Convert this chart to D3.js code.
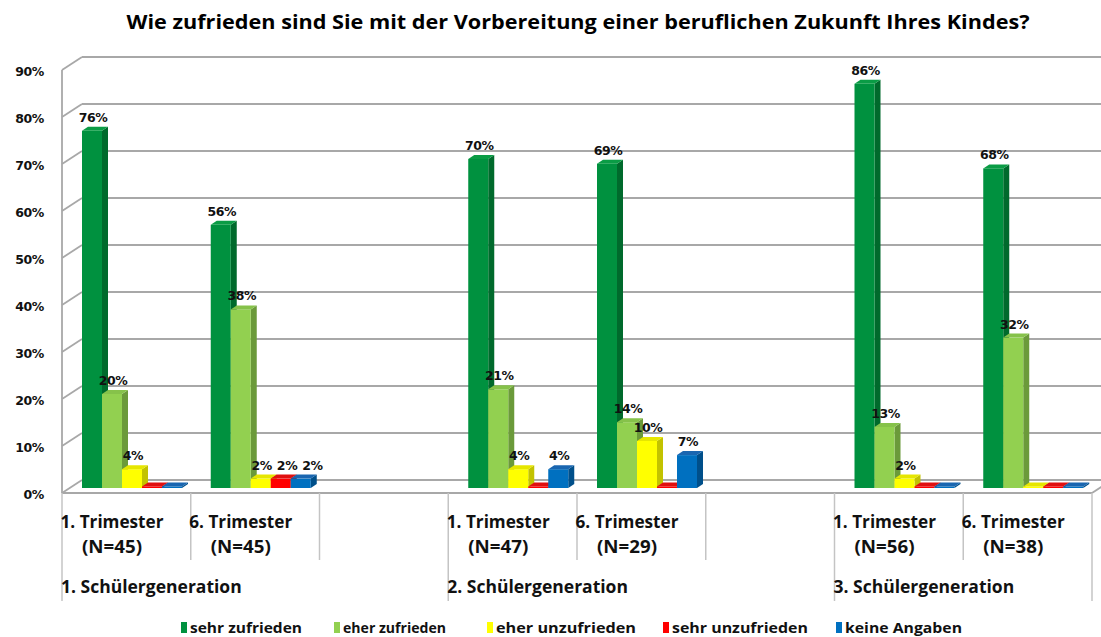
<!DOCTYPE html>
<html>
<head>
<meta charset="utf-8">
<script src="https://cdn.jsdelivr.net/npm/d3@7"></script>
<style>
  html, body { margin: 0; padding: 0; background: #ffffff; }
  svg { display: block; }
</style>
</head>
<body>
<svg id="chart" width="1101" height="637"></svg>
<script>
// ---- data ----
const title = "Wie zufrieden sind Sie mit der Vorbereitung einer beruflichen Zukunft Ihres Kindes?";
const series = ["sehr zufrieden", "eher zufrieden", "eher unzufrieden", "sehr unzufrieden", "keine Angaben"];
const trimesterLabels = ["1. Trimester", "6. Trimester", "", "1. Trimester", "6. Trimester", "", "1. Trimester", "6. Trimester"];
const sampleSizes = ["(N=45)", "(N=45)", "", "(N=47)", "(N=29)", "", "(N=56)", "(N=38)"];
const generations = ["1. Schülergeneration", "2. Schülergeneration", "3. Schülergeneration"];
const sehrZufrieden   = [76, 56, null, 70, 69, null, 86, 68];
const eherZufrieden   = [20, 38, null, 21, 14, null, 13, 32];
const eherUnzufrieden = [4, 2, null, 4, 10, null, 2, 0];
const sehrUnzufrieden = [0, 2, null, 0, 0, null, 0, 0];
const keineAngaben    = [0, 2, null, 4, 7, null, 0, 0];
const yTicks = [0, 10, 20, 30, 40, 50, 60, 70, 80, 90];

const values = [sehrZufrieden, eherZufrieden, eherUnzufrieden, sehrUnzufrieden, keineAngaben];
const frontColors = ["#00913F", "#92D050", "#FFFF00", "#FF0000", "#0070C0"];
const sideColors  = ["#006A2C", "#6B9A3A", "#C2C200", "#B00000", "#004F8A"];
const topColors   = ["#0A9C45", "#86C24A", "#E6E600", "#E01010", "#1A66B0"];

const svg = d3.select("#chart");
const W = 1101;

// ---- scales ----
const x = d3.scaleBand().domain(d3.range(trimesterLabels.length)).range([62, 1092]).padding(0);
const xInner = d3.scaleBand().domain(d3.range(series.length)).range([0, 100]).padding(0);
const barOffset = 20;
const yBar   = d3.scaleLinear().domain([0, 90]).range([488, 65]);
const yBack  = d3.scaleLinear().domain([0, 90]).range([480, 57]);
const yFront = d3.scaleLinear().domain([0, 90]).range([493, 70]);
const depthX = 20, barDX = 6, barDY = 4;

const condensed = "'Liberation Sans Narrow', 'Open Sans', sans-serif";
const labelFont = "'DejaVu Sans', Verdana, sans-serif";

// squeeze/stretch a text element to a given width
function fit(sel, width) {
  sel.each(function () {
    const w = this.getComputedTextLength();
    if (w > 0 && Math.abs(w - width) > 1) {
      d3.select(this).attr("textLength", width).attr("lengthAdjust", "spacingAndGlyphs");
    }
  });
}

// ---- title ----
svg.append("text")
  .attr("x", 578).attr("y", 29)
  .attr("text-anchor", "middle")
  .attr("font-family", condensed)
  .attr("font-weight", "bold")
  .attr("font-size", 19.5)
  .attr("fill", "#000")
  .text(title)
  .call(fit, 903);

// ---- walls and grid ----
const grid = svg.append("g").attr("stroke", "#A8A8A8").attr("stroke-width", 1.8).attr("fill", "none");
// back wall gridlines
grid.selectAll("line.back").data(yTicks).join("line")
  .attr("class", "back")
  .attr("x1", 62 + depthX).attr("x2", W + 20)
  .attr("y1", d => yBack(d)).attr("y2", d => yBack(d));
// side wall gridlines
grid.selectAll("line.side").data(yTicks).join("line")
  .attr("class", "side")
  .attr("x1", 62).attr("y1", d => yFront(d))
  .attr("x2", 62 + depthX).attr("y2", d => yBack(d));
// value axis line
grid.append("line").attr("x1", 62).attr("x2", 62).attr("y1", yFront(90)).attr("y2", yFront(0));
// floor front edge and right edge
grid.append("line").attr("x1", 62).attr("x2", 1092).attr("y1", yFront(0)).attr("y2", yFront(0));
grid.append("line").attr("x1", 1092).attr("y1", yFront(0)).attr("x2", 1092 + depthX).attr("y2", yBack(0));

// category separators below the floor
const boundaries = d3.range(trimesterLabels.length + 1);
const genBreaks = new Set([0, 3, 6, 8]);
svg.append("g").attr("stroke", "#C4C4C4").attr("stroke-width", 1.5)
  .selectAll("line").data(boundaries).join("line")
  .attr("x1", i => i < trimesterLabels.length ? x(i) : x.range()[1])
  .attr("x2", i => i < trimesterLabels.length ? x(i) : x.range()[1])
  .attr("y1", yFront(0))
  .attr("y2", i => genBreaks.has(i) ? 601 : 560);

// ---- value axis labels ----
svg.append("g").selectAll("text").data(yTicks).join("text")
  .attr("x", 44).attr("y", d => yFront(d) + 6)
  .attr("text-anchor", "end")
  .attr("font-family", labelFont).attr("font-weight", "bold").attr("font-size", 12.5)
  .attr("letter-spacing", -0.4)
  .attr("fill", "#111")
  .text(d => d + "%");

// ---- 3D bars ----
const bars = [];
trimesterLabels.forEach((_, ci) => {
  series.forEach((s, si) => {
    const v = values[si][ci];
    if (v === null) return;
    bars.push({ ci, si, v });
  });
});

const barG = svg.append("g");
bars.forEach(b => {
  const x0 = x(b.ci) + barOffset + xInner(b.si);
  const x1 = x0 + xInner.bandwidth();
  const base = yBar(0);
  const top = Math.min(yBar(b.v), base - 1.5);
  const g = barG.append("g");
  // side face
  g.append("path")
    .attr("d", `M${x1},${top}L${x1 + barDX},${top - barDY}L${x1 + barDX},${base - barDY}L${x1},${base}Z`)
    .attr("fill", sideColors[b.si]);
  // front face
  g.append("rect")
    .attr("x", x0).attr("y", top).attr("width", x1 - x0).attr("height", base - top)
    .attr("fill", frontColors[b.si]);
  // top face
  g.append("path")
    .attr("d", `M${x0},${top}L${x0 + barDX},${top - barDY}L${x1 + barDX},${top - barDY}L${x1},${top}Z`)
    .attr("fill", topColors[b.si]);
});

// value labels
const valueLabels = svg.append("g").selectAll("text").data(bars.filter(b => b.v > 0)).join("text")
  .attr("x", b => x(b.ci) + barOffset + xInner(b.si) + xInner.bandwidth() / 2 + 1)
  .attr("y", b => yBar(b.v) - 9)
  .attr("text-anchor", "middle")
  .attr("font-family", labelFont).attr("font-weight", "bold").attr("font-size", 12.5)
  .attr("letter-spacing", -0.4)
  .attr("fill", "#111")
  .text(b => b.v + "%");

// nudge labels to the right when they would collide with the previous one
const placed = [];
valueLabels.each(function (b) {
  const el = d3.select(this);
  let bb = this.getBBox();
  placed.forEach(p => {
    const vOverlap = bb.y < p.y + p.height && bb.y + bb.height > p.y;
    if (vOverlap && bb.x < p.x + p.width + 4 && bb.x + bb.width > p.x) {
      const shift = p.x + p.width + 4 - bb.x;
      el.attr("x", +el.attr("x") + shift);
      bb = this.getBBox();
    }
  });
  placed.push(bb);
});

// ---- category labels ----
const catG = svg.append("g")
  .attr("font-family", condensed).attr("font-weight", "bold").attr("fill", "#111");
trimesterLabels.forEach((t, i) => {
  if (!t) return;
  const cx = x(i) + 50;
  catG.append("text").attr("x", cx).attr("y", 528).attr("text-anchor", "middle")
    .attr("font-size", 17.5).text(t).call(fit, 103);
  catG.append("text").attr("x", cx).attr("y", 553).attr("text-anchor", "middle")
    .attr("font-size", 17.5).text(sampleSizes[i]).call(fit, 60);
});
generations.forEach((g, gi) => {
  catG.append("text").attr("x", x(gi * 3) - 1).attr("y", 593)
    .attr("font-size", 17.5).text(g).call(fit, 180);
});

// ---- legend ----
const legendX = [181, 334, 487, 663, 836];
const legendW = [112, 103, 140, 136, 117];
const legend = svg.append("g").attr("font-family", condensed).attr("font-weight", "bold");
series.forEach((s, i) => {
  legend.append("rect")
    .attr("x", legendX[i]).attr("y", 622).attr("width", 6).attr("height", 11)
    .attr("fill", frontColors[i]);
  legend.append("text")
    .attr("x", legendX[i] + 9).attr("y", 633)
    .attr("font-size", 14.5).attr("fill", "#111")
    .text(s).call(fit, legendW[i]);
});
</script>
</body>
</html>
